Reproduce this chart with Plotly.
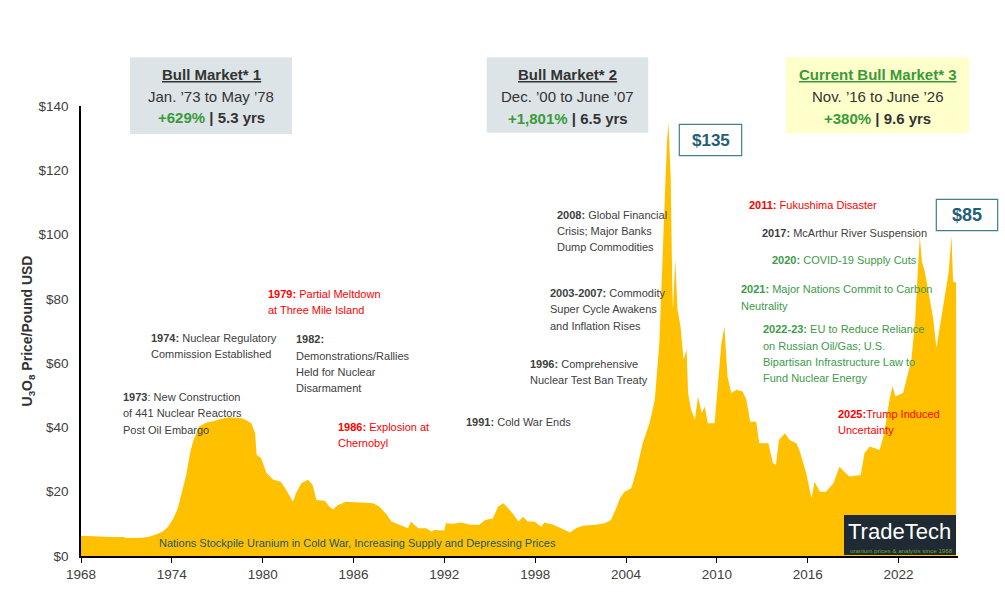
import plotly.graph_objects as go

# ---------------- data ----------------
years = [1968.0, 1968.5, 1969.0, 1970.0, 1970.8, 1971.0, 1972.0, 1972.5, 1973.0, 1973.4,
         1973.75, 1974.1, 1974.4, 1974.7, 1974.95, 1975.2, 1975.4, 1975.8, 1976.3, 1976.8,
         1977.2, 1977.8, 1978.3, 1978.7, 1979.25, 1979.5, 1979.6, 1979.9, 1980.25, 1980.7,
         1981.2, 1981.55, 1982.0, 1982.2, 1982.55, 1983.0, 1983.3, 1983.55, 1984.1, 1984.4,
         1984.65, 1984.97, 1985.5, 1986.2, 1987.3, 1987.7, 1988.2, 1988.5, 1989.05, 1989.6,
         1989.8, 1990.0, 1990.3, 1990.8, 1991.15, 1991.35, 1992.0, 1992.1, 1992.6, 1993.1,
         1993.7, 1994.3, 1994.7, 1995.2, 1995.55, 1995.9, 1996.2, 1996.5, 1996.9, 1997.2,
         1997.5, 1997.95, 1998.4, 1998.6, 1999.2, 1999.7, 2000.3, 2000.7, 2001.15, 2002.0,
         2002.6, 2003.0, 2003.3, 2003.6, 2003.9, 2004.35, 2004.7, 2005.1, 2005.55, 2005.9,
         2006.2, 2006.45, 2006.7, 2006.8, 2006.95, 2007.05, 2007.1, 2007.25, 2007.4, 2007.6,
         2007.8, 2008.0, 2008.1, 2008.3, 2008.55, 2008.75, 2009.0, 2009.2, 2009.4, 2009.85,
         2010.1, 2010.3, 2010.5, 2010.7, 2010.95, 2011.3, 2011.7, 2011.95, 2012.2, 2012.6,
         2012.8, 2013.4, 2013.7, 2013.9, 2014.1, 2014.5, 2014.8, 2015.25, 2015.45, 2015.9,
         2016.25, 2016.45, 2016.8, 2017.2, 2017.7, 2018.1, 2018.4, 2018.75, 2019.5, 2019.75,
         2020.1, 2020.75, 2021.05, 2021.4, 2021.6, 2021.8, 2022.3, 2022.6, 2022.85, 2023.1,
         2023.3, 2023.4, 2023.55, 2023.7, 2023.95, 2024.3, 2024.5, 2024.7, 2025.05, 2025.3,
         2025.5, 2025.6, 2025.8]
prices = [6.3, 6.2, 6.0, 5.9, 5.9, 5.6, 5.7, 6.0, 6.8, 7.6,
          9.1, 11.7, 14.9, 20.6, 25.2, 32.0, 35.6, 40.3, 41.5, 42.0,
          42.6, 43.2, 43.1, 42.8, 41.3, 38.2, 31.5, 30.4, 25.8, 23.7,
          23.1, 20.6, 16.9, 19.5, 22.6, 23.7, 22.1, 17.4, 17.2, 15.4,
          14.5, 15.9, 16.9, 16.7, 16.4, 15.4, 12.8, 10.7, 9.7, 8.6,
          10.7, 9.7, 8.6, 8.6, 7.6, 8.1, 7.9, 10.2, 10.0, 10.4,
          9.7, 9.7, 11.2, 11.7, 15.4, 16.4, 14.9, 13.3, 10.7, 12.2,
          10.7, 10.7, 9.1, 10.4, 9.7, 8.6, 7.3, 8.6, 9.4, 9.7,
          10.2, 11.2, 14.3, 18.0, 20.0, 21.1, 26.8, 35.1, 41.3, 48.6,
          66.3, 97.4, 128.6, 134.8, 118.0, 85.0, 76.6, 92.2, 76.6, 71.4,
          61.1, 64.2, 50.7, 45.5, 42.4, 49.6, 44.5, 46.5, 41.3, 41.3,
          55.9, 66.3, 71.4, 55.9, 50.7, 51.7, 51.2, 48.6, 41.8, 41.8,
          35.1, 35.1, 28.9, 28.3, 36.1, 38.2, 36.1, 35.1, 33.0, 25.8,
          18.0, 23.1, 20.0, 20.0, 22.6, 27.8, 26.3, 24.7, 25.2, 32.0,
          34.1, 33.0, 38.2, 48.6, 52.8, 49.6, 50.7, 55.9, 61.1, 73.5,
          92.2, 99.5, 91.2, 89.1, 82.9, 73.5, 64.7, 70.4, 80.8, 88.0,
          99.5, 85.4, 85.0]

x_tick_vals = [1968, 1974, 1980, 1986, 1992, 1998, 2004, 2010, 2016, 2022]
x_tick_text = [str(v) for v in x_tick_vals]
y_tick_vals = [0, 20, 40, 60, 80, 100, 120, 140]
y_tick_text = ["$" + str(v) for v in y_tick_vals]

# ---------------- layout helpers ----------------
W, H = 1005, 607
L, R, T, B = 81, 47, 106, 51
PW, PH = W - L - R, H - T - B


def px(x):
    return (x - L) / PW


def py(y):
    return (H - B - y) / PH


FONT = "Liberation Sans, Arial, sans-serif"
DARK = "#404040"
RED = "#FF0000"
GREEN = "#3D9B47"
TEAL = "#215967"
NOTE = 11
BOXF = 15

fig = go.Figure()
fig.add_trace(go.Scatter(x=years, y=prices, mode="lines", fill="tozeroy",
                         line=dict(width=0, color="#FFC000"), fillcolor="#FFC000",
                         hoverinfo="skip", showlegend=False))

annotations = []


def note(x, y, text, color=DARK, size=NOTE, anchor="left"):
    annotations.append(dict(xref="paper", yref="paper", x=px(x), y=py(y), text=text,
                            showarrow=False, xanchor=anchor, yanchor="middle",
                            font=dict(family=FONT, size=size, color=color)))


# event notes (one annotation per line)
note(120.7, 396.7, "<b>1973</b>: New Construction")
note(120.7, 413.3, "of 441 Nuclear Reactors")
note(120.7, 430.0, "Post Oil Embargo")

note(149, 338.3, "<b>1974:</b> Nuclear Regulatory")
note(149, 353.8, "Commission Established")

note(265.7, 293.8, "<b>1979:</b> Partial Meltdown", RED)
note(265.7, 309.8, "at Three Mile Island", RED)

note(294, 338.8, "<b>1982:</b>")
note(294, 355.5, "Demonstrations/Rallies")
note(294, 372.0, "Held for Nuclear")
note(294, 388.3, "Disarmament")

note(336, 427.3, "<b>1986:</b> Explosion at", RED)
note(336, 443.3, "Chernobyl", RED)

note(464, 421.7, "<b>1991:</b> Cold War Ends")

note(527.7, 363.8, "<b>1996:</b> Comprehensive")
note(527.7, 379.8, "Nuclear Test Ban Treaty")

note(548.3, 292.5, "<b>2003-2007:</b> Commodity")
note(548.3, 309.0, "Super Cycle Awakens")
note(548.3, 325.7, "and Inflation Rises")

note(555, 215.0, "<b>2008:</b> Global Financial")
note(555, 230.8, "Crisis; Major Banks")
note(555, 246.7, "Dump Commodities")

note(747.3, 205.0, "<b>2011:</b> Fukushima Disaster", RED)
note(760, 233.3, "<b>2017:</b> McArthur River Suspension")
note(770, 260.0, "<b>2020:</b> COVID-19 Supply Cuts", GREEN)
note(739.3, 289.3, "<b>2021:</b> Major Nations Commit to Carbon", GREEN)
note(739.3, 305.7, "Neutrality", GREEN)
note(760.7, 329.3, "<b>2022-23:</b> EU to Reduce Reliance", GREEN)
note(760.7, 345.5, "on Russian Oil/Gas; U.S.", GREEN)
note(760.7, 362.3, "Bipartisan Infrastructure Law to", GREEN)
note(760.7, 378.3, "Fund Nuclear Energy", GREEN)
note(835.7, 414.0, "<b>2025:</b>Trump Induced", RED)
note(835.7, 430.0, "Uncertainty", RED)

note(156.7, 542.7, "Nations Stockpile Uranium in Cold War, Increasing Supply and Depressing Prices", TEAL)

# bull market boxes
shapes = []


def box(x0, y0, x1, y1, fill, line_color=None, line_width=0, layer="above"):
    shapes.append(dict(type="rect", xref="paper", yref="paper",
                       x0=px(x0), x1=px(x1), y0=py(y1), y1=py(y0),
                       fillcolor=fill, layer=layer,
                       line=dict(color=line_color or fill, width=line_width)))


box(130, 57.3, 292, 134, "#DCE4E8")
box(486.7, 57.3, 648.3, 132.7, "#DCE4E8")
box(786, 57.3, 969.3, 133.3, "#FFFFCC")

UL = "<span style='text-decoration:underline'>%s</span>"
BG = "#3A9A3A"
note(211, 75.0, "<b>" + UL % "Bull Market* 1" + "</b>", "#333333", BOXF, "center")
note(211, 96.5, "Jan. \u201973 to May \u201978", "#333333", BOXF, "center")
note(211, 118.0, "<b><span style='color:%s'>+629%%</span> | 5.3 yrs</b>" % BG, "#333333", BOXF, "center")

note(567.5, 75.0, "<b>" + UL % "Bull Market* 2" + "</b>", "#333333", BOXF, "center")
note(567.5, 96.0, "Dec. \u201900 to June \u201907", "#333333", BOXF, "center")
note(567.5, 118.3, "<b><span style='color:%s'>+1,801%%</span> | 6.5 yrs</b>" % BG, "#333333", BOXF, "center")

note(877.7, 75.0, "<b>" + UL % "Current Bull Market* 3" + "</b>", BG, BOXF, "center")
note(877.7, 96.0, "Nov. \u201916 to June \u201926", "#333333", BOXF, "center")
note(877.7, 118.3, "<b><span style='color:%s'>+380%%</span> | 9.6 yrs</b>" % BG, "#333333", BOXF, "center")

# price call-outs
box(679.3, 124.3, 741.7, 155.7, "white", "#3F7F8F", 1.2)
note(710.5, 140.0, "<b>$135</b>", "#1F6078", 17, "center")
box(936.3, 199.3, 997.7, 230.7, "white", "#3F7F8F", 1.2)
note(967, 215.0, "<b>$85</b>", "#1F6078", 18, "center")

# TradeTech logo
box(844, 515, 956, 555, "#1F2A35")
note(899.5, 531.5, "TradeTech", "white", 22, "center")
note(901, 550.5, "uranium prices &amp; analysis since 1968", "#6AAA3A", 6.2, "center")

fig.update_layout(
    width=W, height=H, margin=dict(l=L, r=R, t=T, b=B),
    paper_bgcolor="white", plot_bgcolor="white",
    font=dict(family=FONT, color=DARK),
    annotations=annotations, shapes=shapes, showlegend=False,
    xaxis=dict(range=[1968, 1968 + PW / 15.14], tickvals=x_tick_vals, ticktext=x_tick_text,
               showgrid=False, zeroline=False, showline=True, linecolor="black", linewidth=1.5,
               ticks="outside", ticklen=5, tickcolor="black", tickwidth=1,
               tickfont=dict(family=FONT, size=13.5, color=DARK)),
    yaxis=dict(range=[0, 140], tickvals=y_tick_vals, ticktext=y_tick_text,
               showgrid=False, zeroline=False, showline=True, linecolor="black", linewidth=1.5,
               ticks="", ticklabelstandoff=8,
               tickfont=dict(family=FONT, size=13.5, color=DARK),
               title=dict(text="<b>U<sub>3</sub>O<sub>8</sub> Price/Pound USD</b>", standoff=3,
                          font=dict(family=FONT, size=14, color="#333333"))),
)

fig.write_html("out.html")
